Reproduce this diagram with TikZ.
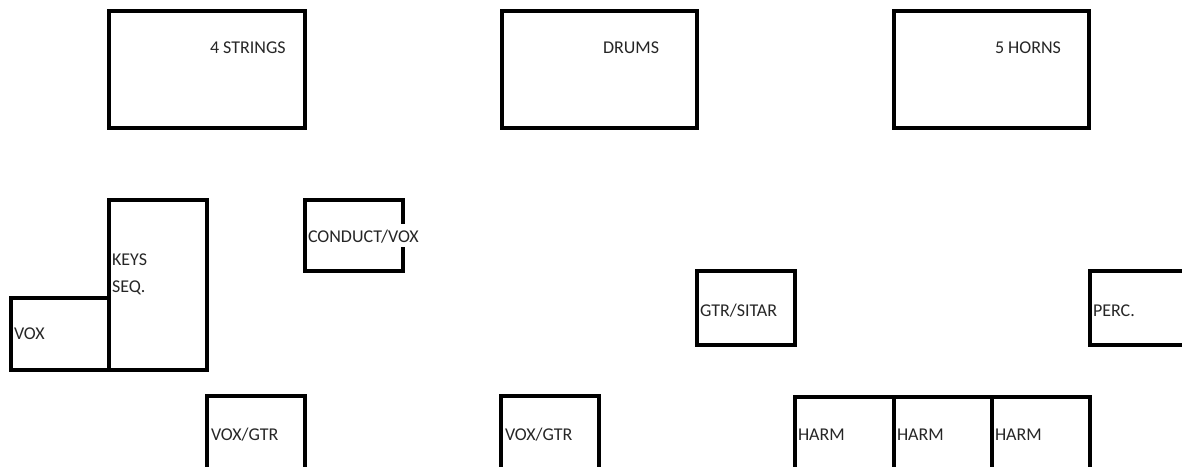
\documentclass[tikz,border=0pt]{standalone}
\usepackage{fontspec}
\setmainfont{Carlito}
\begin{document}
\begin{tikzpicture}[x=1pt,y=-1pt,
  zone/.style={draw=black,line width=4pt,inner sep=0pt,outer sep=0pt,anchor=north west,rectangle},
  lbl/.style={anchor=base west,inner sep=0pt,outer sep=0pt,font=\fontsize{18}{22}\selectfont,text=black!85}]
\useasboundingbox (0,0) rectangle (1182,466);
\clip (0,0) rectangle (1182,466);
% top row
\node[zone,minimum width=196pt,minimum height=117pt] (strings) at (109,11) {};
\node[zone,minimum width=195pt,minimum height=117pt] (drums) at (502,11) {};
\node[zone,minimum width=195pt,minimum height=117pt] (horns) at (894,11) {};
\node[lbl] (stringsT) at (210,53) {4 STRINGS};
\node[lbl] (drumsT) at (603,53) {DRUMS};
\node[lbl] (hornsT) at (995,53) {5 HORNS};
% left group
\node[zone,minimum width=98pt,minimum height=170pt] (keys) at (109,200) {};
\node[zone,minimum width=98pt,minimum height=72.5pt] (vox) at (11,297.5) {};
\node[lbl] (keysT) at (112,265) {KEYS};
\node[lbl] (seqT) at (112,292) {SEQ.};
\node[lbl] (voxT) at (14,339) {VOX};
% conductor
\node[zone,minimum width=98pt,minimum height=71pt] (cond) at (305,200) {};
\node[lbl,fill=white,text height=18pt,text depth=5pt] (condT) at (308,242) {CONDUCT/VOX};
% middle right
\node[zone,minimum width=98pt,minimum height=74pt] (sitar) at (697,271) {};
\node[lbl] (sitarT) at (700,316) {GTR/SITAR};
\node[zone,minimum width=120pt,minimum height=74pt] (perc) at (1090,271) {};
\node[lbl] (percT) at (1093,316) {PERC.};
% bottom row
\node[zone,minimum width=98pt,minimum height=100pt] (vg1) at (207,396) {};
\node[lbl] (vg1T) at (211,440) {VOX/GTR};
\node[zone,minimum width=98pt,minimum height=100pt] (vg2) at (501,396) {};
\node[lbl] (vg2T) at (505,440) {VOX/GTR};
\node[zone,minimum width=98.5pt,minimum height=100pt] (h1) at (795,397) {};
\node[zone,minimum width=98pt,minimum height=100pt] (h2) at (893.5,397) {};
\node[zone,minimum width=98pt,minimum height=100pt] (h3) at (991.5,397) {};
\node[lbl] (h1T) at (798,440) {HARM};
\node[lbl] (h2T) at (897,440) {HARM};
\node[lbl] (h3T) at (995,440) {HARM};
\end{tikzpicture}
\end{document}
